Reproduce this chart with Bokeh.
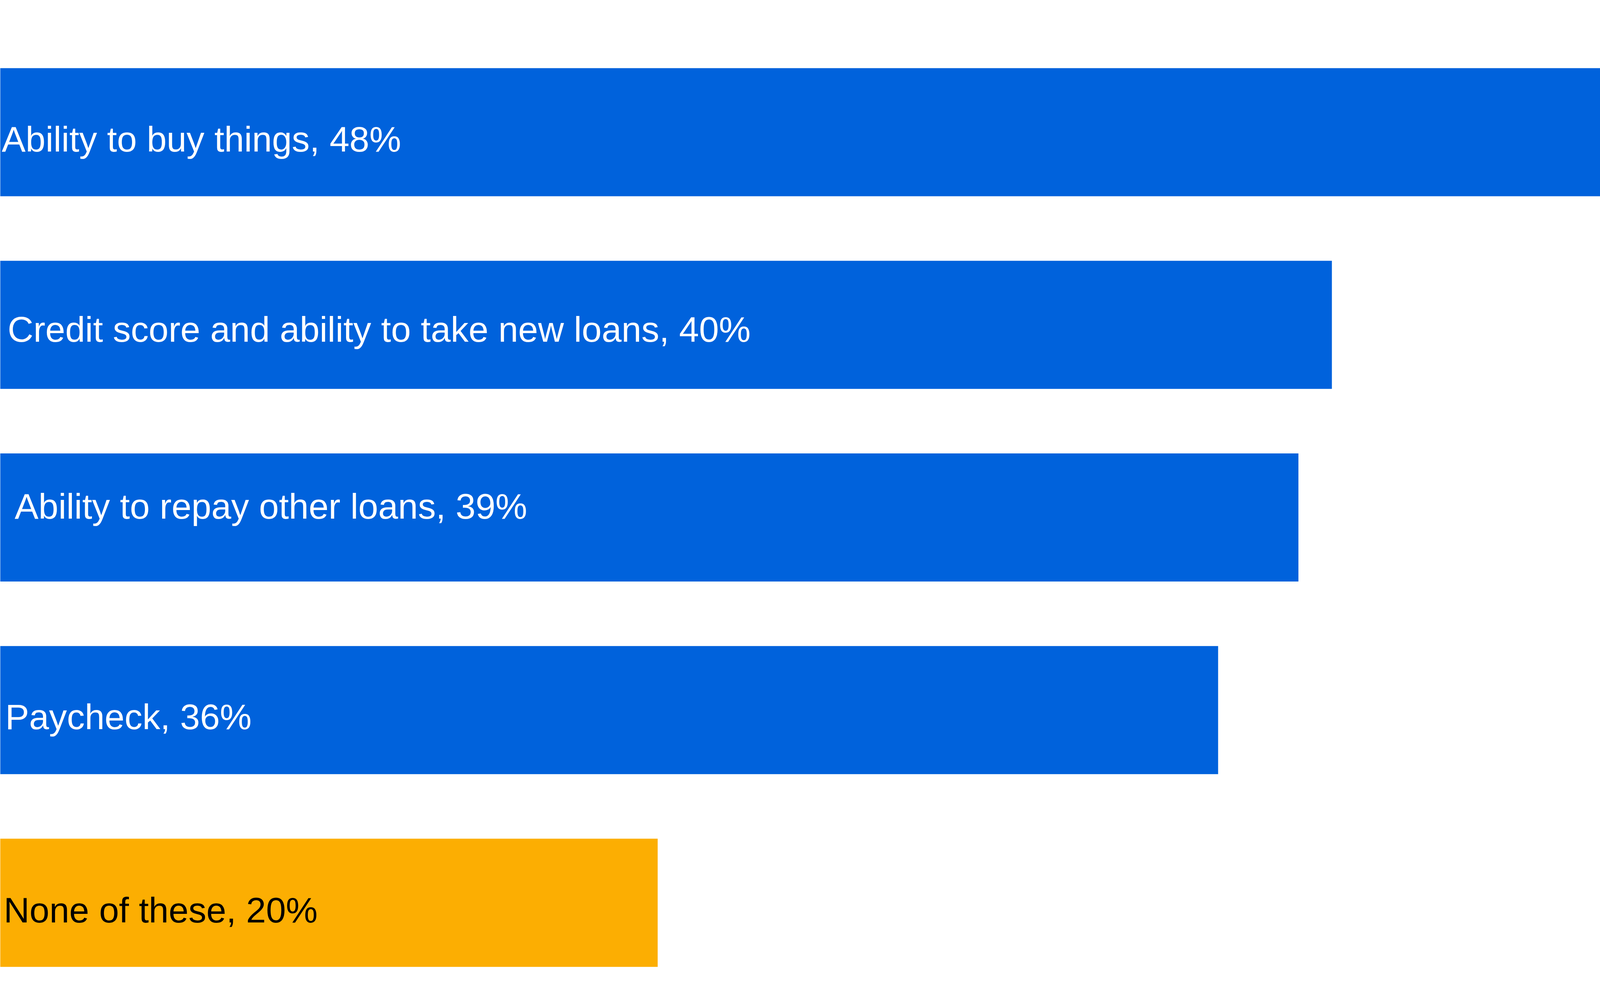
from bokeh.plotting import figure
from bokeh.models import ColumnDataSource, Range1d
from bokeh.embed import file_html
from bokeh.resources import INLINE
from bokeh.core.properties import value

# ---- data ----
categories = [
    "Ability to buy things",
    "Credit score and ability to take new loans",
    "Ability to repay other loans",
    "Paycheck",
    "None of these",
]
shares = [47.9, 39.8, 38.8, 36.4, 19.65]
share_labels = ["48%", "40%", "39%", "36%", "20%"]
groups = ["impact", "impact", "impact", "impact", "none"]

# ---- style ----
BLUE = "#0062DC"
ORANGE = "#FCAE02"
bar_colors = [ORANGE if g == "none" else BLUE for g in groups]
text_colors = ["black" if g == "none" else "white" for g in groups]
label_dx = [4, 19, 37, 13, 9]      # pixel nudges of the in-bar labels
label_dy = [18, 11, -29, 17, 18]   # baseline offset below bar centre (px)

W, H = 5482, 2542

src = ColumnDataSource(dict(
    pos=list(range(len(categories))),
    share=shares,
    zero=[0] * len(shares),
    label=[f"{c}, {l}" for c, l in zip(categories, share_labels)],
    bar_color=bar_colors,
    text_color=text_colors,
    dx=label_dx,
    dy=label_dy,
))

p = figure(width=W, height=H, output_backend="svg", toolbar_location=None,
           x_range=Range1d(0, 64), y_range=Range1d(4.468, -0.685),
           min_border=0, outline_line_color=None)
p.axis.visible = False
p.grid.visible = False
p.background_fill_color = "white"
p.border_fill_color = "white"

p.hbar(y="pos", left="zero", right="share", height=0.665, source=src,
       fill_color="bar_color", line_color=None)

p.text(x="zero", y="pos", text="label", source=src,
       x_offset="dx", y_offset="dy",
       text_color="text_color", text_font=value("Liberation Sans"),
       text_font_size="91.5px", text_align="left", text_baseline="alphabetic")

open("out.html", "w").write(file_html(p, INLINE))
